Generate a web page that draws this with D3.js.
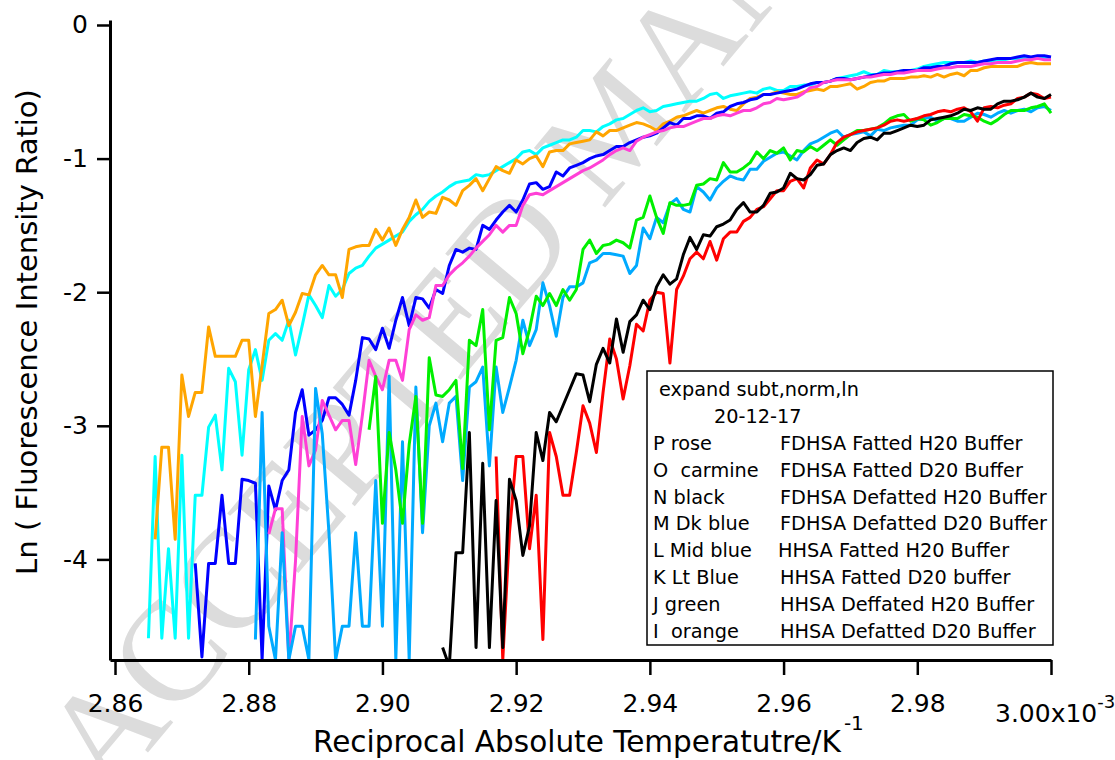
<!DOCTYPE html>
<html><head><meta charset="utf-8">
<script src="https://cdn.jsdelivr.net/npm/d3@7"></script>
<style>
body{margin:0;background:#fff;}
svg{display:block;font-family:"DejaVu Sans",sans-serif;}
text{white-space:pre;}
</style></head><body>
<svg id="chart" width="1115" height="760"></svg>
<script>
// Reciprocal absolute temperature grid (x 10^-3 K^-1)
const recipT = [
 2.865,2.866,2.867,2.868,2.869,
 2.870,2.871,2.872,2.873,2.874,2.875,2.876,2.877,2.878,2.879,
 2.880,2.881,2.882,2.883,2.884,2.885,2.886,2.887,2.888,2.889,
 2.890,2.891,2.892,2.893,2.894,2.895,2.896,2.897,2.898,2.899,
 2.900,2.901,2.902,2.903,2.904,2.905,2.906,2.907,2.908,2.909,
 2.910,2.911,2.912,2.913,2.914,2.915,2.916,2.917,2.918,2.919,
 2.920,2.921,2.922,2.923,2.924,2.925,2.926,2.927,2.928,2.929,
 2.930,2.931,2.932,2.933,2.934,2.935,2.936,2.937,2.938,2.939,
 2.940,2.941,2.942,2.943,2.944,2.945,2.946,2.947,2.948,2.949,
 2.950,2.951,2.952,2.953,2.954,2.955,2.956,2.957,2.958,2.959,
 2.960,2.961,2.962,2.963,2.964,2.965,2.966,2.967,2.968,2.969,
 2.970,2.971,2.972,2.973,2.974,2.975,2.976,2.977,2.978,2.979,
 2.980,2.981,2.982,2.983,2.984,2.985,2.986,2.987,2.988,2.989,
 2.990,2.991,2.992,2.993,2.994,2.995,2.996,2.997,2.998,2.999,
 3.000];

// I orange : HHSA Defatted D20 Buffer (starts 2.866)
const orangeStart = 2.866;
const orangeI = [
 -3.85,-3.16,-3.16,-3.85,
 -2.62,-2.93,-2.75,-2.75,-2.26,-2.48,-2.48,-2.48,-2.48,-2.36,
 -2.36,-2.93,-2.55,-2.16,-2.13,-2.06,-2.25,-2.15,-2.01,-2.02,
 -1.87,-1.80,-1.87,-1.87,-2.04,-1.68,-1.66,-1.65,-1.65,-1.53,
 -1.61,-1.52,-1.65,-1.53,-1.44,-1.31,-1.44,-1.40,-1.41,-1.29,
 -1.31,-1.35,-1.24,-1.20,-1.15,-1.24,-1.15,-1.06,-1.09,-1.11,
 -1.01,-1.04,-1.00,-0.98,-1.06,-0.95,-0.94,-0.94,-0.89,-0.88,
 -0.87,-0.86,-0.80,-0.83,-0.79,-0.79,-0.77,-0.75,-0.73,-0.74,
 -0.76,-0.79,-0.74,-0.72,-0.69,-0.68,-0.66,-0.64,-0.66,-0.64,
 -0.62,-0.61,-0.63,-0.64,-0.59,-0.55,-0.54,-0.52,-0.52,-0.50,
 -0.51,-0.52,-0.52,-0.50,-0.49,-0.48,-0.49,-0.46,-0.46,-0.45,
 -0.44,-0.48,-0.46,-0.43,-0.42,-0.42,-0.40,-0.40,-0.40,-0.39,
 -0.39,-0.38,-0.39,-0.37,-0.39,-0.37,-0.36,-0.38,-0.34,-0.34,
 -0.32,-0.31,-0.31,-0.31,-0.31,-0.31,-0.29,-0.28,-0.29,-0.29,
 -0.29];

// K Lt Blue : HHSA Fatted D20 buffer (starts 2.865)
const cyanStart = 2.865;
const cyanK = [
 -4.59,-3.23,-4.59,-3.92,-4.59,
 -3.22,-4.59,-3.52,-3.52,-3.01,-2.92,-3.33,-2.57,-2.67,-3.22,
 -2.58,-2.43,-2.66,-2.36,-2.31,-2.36,-2.21,-2.47,-2.25,-2.02,
 -2.10,-2.19,-1.95,-2.03,-1.98,-1.86,-1.82,-1.80,-1.73,-1.67,
 -1.64,-1.61,-1.58,-1.55,-1.47,-1.42,-1.38,-1.32,-1.28,-1.25,
 -1.21,-1.18,-1.17,-1.16,-1.12,-1.13,-1.12,-1.09,-1.06,-1.03,
 -1.00,-0.95,-0.94,-0.97,-0.92,-0.90,-0.88,-0.86,-0.86,-0.84,
 -0.79,-0.79,-0.80,-0.76,-0.74,-0.71,-0.70,-0.67,-0.64,-0.62,
 -0.65,-0.64,-0.61,-0.60,-0.59,-0.58,-0.57,-0.57,-0.55,-0.52,
 -0.51,-0.55,-0.53,-0.52,-0.51,-0.50,-0.51,-0.48,-0.47,-0.49,
 -0.49,-0.46,-0.46,-0.45,-0.45,-0.43,-0.43,-0.42,-0.40,-0.39,
 -0.38,-0.37,-0.35,-0.37,-0.37,-0.34,-0.35,-0.35,-0.34,-0.34,
 -0.33,-0.31,-0.30,-0.29,-0.28,-0.28,-0.28,-0.28,-0.27,-0.28,
 -0.27,-0.27,-0.26,-0.26,-0.25,-0.25,-0.25,-0.25,-0.24,-0.25,
 -0.25];

// M Dk blue : FDHSA Defatted D20 Buffer (starts 2.872)
const blueStart = 2.872;
const blueM = [
 -4.03,-4.73,-4.03,-4.03,-3.52,-4.03,-4.03,-3.40,
 -3.41,-3.43,-4.75,-3.45,-3.63,-3.41,-3.33,-2.90,-2.73,-3.07,
 -3.03,-2.96,-2.79,-2.79,-2.84,-2.92,-2.66,-2.34,-2.35,-2.43,
 -2.27,-2.42,-2.21,-2.04,-2.25,-2.04,-2.05,-2.12,-1.98,-2.01,
 -1.80,-1.68,-1.70,-1.67,-1.68,-1.50,-1.53,-1.46,-1.40,-1.35,
 -1.40,-1.31,-1.19,-1.18,-1.23,-1.21,-1.10,-1.13,-1.07,-1.05,
 -1.03,-1.00,-0.98,-0.97,-0.94,-0.91,-0.91,-0.88,-0.86,-0.84,
 -0.83,-0.81,-0.77,-0.73,-0.75,-0.70,-0.70,-0.68,-0.68,-0.70,
 -0.66,-0.65,-0.61,-0.59,-0.58,-0.56,-0.55,-0.52,-0.52,-0.51,
 -0.50,-0.49,-0.48,-0.46,-0.44,-0.43,-0.43,-0.42,-0.40,-0.40,
 -0.41,-0.40,-0.39,-0.38,-0.37,-0.36,-0.36,-0.35,-0.34,-0.34,
 -0.34,-0.32,-0.32,-0.31,-0.31,-0.29,-0.28,-0.28,-0.28,-0.28,
 -0.27,-0.26,-0.25,-0.25,-0.25,-0.24,-0.23,-0.24,-0.23,-0.23,
 -0.24];

// P rose : FDHSA Fatted H20 Buffer (starts 2.883)
const roseStart = 2.883;
const roseP = [
 -3.81,-3.62,-3.62,-4.75,-4.01,-2.93,-3.30,
 -3.18,-2.81,-2.92,-3.03,-2.96,-2.96,-3.29,-2.92,-2.51,-2.63,
 -2.73,-2.51,-2.51,-2.66,-2.28,-2.17,-2.21,-2.19,-1.95,-1.95,
 -1.87,-1.82,-1.78,-1.73,-1.67,-1.62,-1.57,-1.50,-1.55,-1.50,
 -1.50,-1.35,-1.27,-1.26,-1.27,-1.24,-1.21,-1.18,-1.15,-1.12,
 -1.09,-1.07,-1.04,-1.01,-0.97,-0.94,-0.92,-0.94,-0.87,-0.84,
 -0.82,-0.80,-0.79,-0.77,-0.76,-0.76,-0.74,-0.72,-0.70,-0.70,
 -0.68,-0.67,-0.68,-0.66,-0.64,-0.64,-0.62,-0.59,-0.58,-0.55,
 -0.56,-0.55,-0.54,-0.51,-0.47,-0.46,-0.43,-0.42,-0.41,-0.41,
 -0.41,-0.40,-0.39,-0.39,-0.38,-0.37,-0.37,-0.36,-0.36,-0.35,
 -0.34,-0.34,-0.34,-0.33,-0.32,-0.32,-0.31,-0.31,-0.31,-0.30,
 -0.29,-0.29,-0.28,-0.28,-0.28,-0.27,-0.26,-0.26,-0.25,-0.26,
 -0.26];

// L Mid blue : HHSA Fatted H20 Buffer (starts 2.881)
const midBlueStart = 2.881;
const midBlueL = [
 -4.60,-2.90,-4.50,-4.75,-3.80,-4.75,-4.50,-4.50,-4.75,
 -2.72,-3.06,-3.80,-4.75,-4.50,-4.50,-3.80,-4.50,-4.50,-3.41,
 -4.50,-2.63,-4.75,-3.12,-4.75,-2.71,-3.80,-3.00,-2.83,-3.12,
 -2.83,-2.78,-3.41,-2.71,-2.67,-2.56,-3.30,-2.56,-2.90,-2.71,
 -2.51,-2.21,-2.40,-2.28,-1.93,-2.10,-2.33,-2.04,-1.96,-1.96,
 -1.93,-1.78,-1.76,-1.71,-1.71,-1.72,-1.73,-1.86,-1.80,-1.52,
 -1.60,-1.44,-1.48,-1.34,-1.30,-1.38,-1.40,-1.21,-1.25,-1.31,
 -1.22,-1.17,-1.13,-1.15,-1.16,-1.08,-1.08,-1.02,-0.99,-0.96,
 -0.95,-0.98,-1.01,-0.94,-0.89,-0.87,-0.84,-0.81,-0.79,-0.84,
 -0.82,-0.81,-0.80,-0.83,-0.78,-0.79,-0.77,-0.76,-0.75,-0.75,
 -0.71,-0.70,-0.69,-0.72,-0.70,-0.70,-0.72,-0.72,-0.69,-0.66,
 -0.67,-0.69,-0.66,-0.64,-0.66,-0.64,-0.63,-0.65,-0.62,-0.61,
 -0.64];

// J green : HHSA Deffated H20 Buffer (starts 2.898)
const greenStart = 2.898;
const greenJ = [
 -3.03,-2.63,
 -3.73,-3.05,-3.33,-3.73,-3.14,-2.78,-3.73,-2.49,-2.77,-2.78,
 -2.73,-2.66,-3.32,-2.36,-2.40,-2.13,-3.03,-2.36,-2.34,-2.04,
 -2.16,-2.46,-2.28,-2.03,-2.10,-2.01,-2.10,-1.98,-2.06,-1.98,
 -1.68,-1.61,-1.71,-1.65,-1.64,-1.61,-1.63,-1.67,-1.46,-1.44,
 -1.28,-1.44,-1.56,-1.33,-1.35,-1.35,-1.34,-1.20,-1.19,-1.15,
 -1.16,-1.03,-1.10,-1.10,-1.07,-1.03,-0.95,-1.00,-0.94,-0.96,
 -0.92,-1.01,-0.94,-0.95,-0.91,-0.94,-0.90,-0.86,-0.90,-0.86,
 -0.82,-0.79,-0.79,-0.78,-0.77,-0.74,-0.70,-0.68,-0.67,-0.72,
 -0.70,-0.71,-0.75,-0.73,-0.70,-0.70,-0.70,-0.67,-0.68,-0.69,
 -0.72,-0.74,-0.71,-0.67,-0.64,-0.64,-0.64,-0.62,-0.61,-0.59,
 -0.66];

// N black : FDHSA Defatted H20 Buffer (starts 2.909)
const blackStart = 2.909;
const blackN = [
 -4.66,
 -4.80,-3.95,-3.95,-3.05,-4.66,-3.28,-4.66,-3.56,-4.66,-3.40,
 -3.56,-3.97,-3.75,-3.05,-3.26,-2.90,-2.97,-2.85,-2.73,-2.61,
 -2.62,-2.82,-2.54,-2.42,-2.53,-2.20,-2.45,-2.22,-2.17,-2.06,
 -2.13,-1.96,-1.87,-1.94,-1.90,-1.72,-1.59,-1.68,-1.57,-1.58,
 -1.51,-1.49,-1.46,-1.38,-1.33,-1.40,-1.40,-1.35,-1.26,-1.25,
 -1.22,-1.11,-1.15,-1.16,-1.12,-1.05,-1.04,-0.97,-0.94,-0.92,
 -0.94,-0.88,-0.85,-0.84,-0.86,-0.81,-0.81,-0.79,-0.77,-0.75,
 -0.76,-0.75,-0.71,-0.70,-0.69,-0.68,-0.66,-0.63,-0.64,-0.62,
 -0.63,-0.63,-0.59,-0.57,-0.57,-0.56,-0.54,-0.51,-0.54,-0.55,
 -0.52];

// O carmine : FDHSA Fatted D20 Buffer (starts 2.917)
const carmineStart = 2.917;
const carmineO = [
 -3.23,-4.75,-3.80,
 -3.23,-3.23,-3.92,-3.52,-4.60,-3.05,-3.23,-3.52,-3.52,-3.20,
 -2.85,-2.98,-3.20,-2.75,-2.35,-2.50,-2.80,-2.55,-2.24,-2.29,
 -2.06,-2.00,-2.01,-2.53,-1.98,-1.88,-1.75,-1.70,-1.75,-1.62,
 -1.76,-1.60,-1.55,-1.55,-1.47,-1.44,-1.38,-1.36,-1.30,-1.24,
 -1.24,-1.17,-1.15,-1.22,-1.07,-1.01,-1.04,-0.97,-0.88,-0.84,
 -0.82,-0.80,-0.79,-0.78,-0.77,-0.75,-0.72,-0.71,-0.72,-0.71,
 -0.70,-0.68,-0.67,-0.65,-0.64,-0.65,-0.63,-0.62,-0.65,-0.72,
 -0.62,-0.61,-0.62,-0.60,-0.59,-0.55,-0.54,-0.51,-0.52,-0.55,
 -0.54];

const xTickValues = [2.86, 2.88, 2.90, 2.92, 2.94, 2.96, 2.98, 3.00];
const xTickLabels = ["2.86", "2.88", "2.90", "2.92", "2.94", "2.96", "2.98", ""];
const yTickValues = [0, -1, -2, -3, -4];
const yTickLabels = ["0", "-1", "-2", "-3", "-4"];

const legendHeader = ["expand subt,norm,ln", "20-12-17"];
const legendKeys = ["P rose", "O  carmine", "N black", "M Dk blue", "L Mid blue", "K Lt Blue", "J green", "I  orange"];
const legendDescs = ["FDHSA Fatted H20 Buffer", "FDHSA Fatted D20 Buffer", "FDHSA Defatted H20 Buffer",
  "FDHSA Defatted D20 Buffer", "HHSA Fatted H20 Buffer", "HHSA Fatted D20 buffer",
  "HHSA Deffated H20 Buffer", "HHSA Defatted D20 Buffer"];

const series = [
  {start: cyanStart, values: cyanK, color: "#00ffff"},
  {start: orangeStart, values: orangeI, color: "#ffa500"},
  {start: blueStart, values: blueM, color: "#0000ff"},
  {start: roseStart, values: roseP, color: "#ff40d6"},
  {start: midBlueStart, values: midBlueL, color: "#00aaff"},
  {start: greenStart, values: greenJ, color: "#00f000"},
  {start: carmineStart, values: carmineO, color: "#ff0000"},
  {start: blackStart, values: blackN, color: "#000000"}
];

const svg = d3.select("#chart");
const x = d3.scaleLinear().domain([2.85925, 3.0]).range([110, 1051]);
const y = d3.scaleLinear().domain([-4.753, 0.0374]).range([660, 20]);

// watermark
svg.append("text")
  .attr("transform", "translate(108,800) rotate(-50)")
  .attr("font-family", "'Liberation Serif', serif")
  .attr("font-size", 142)
  .attr("fill", "#dcdcdc")
  .text("ACCEPTED MANUSCRIPT");

svg.append("clipPath").attr("id", "plotclip")
  .append("rect").attr("x", 110).attr("y", 18).attr("width", 945).attr("height", 642);

const line = d3.line().x(d => x(d.x)).y(d => y(d.y));
const plot = svg.append("g").attr("clip-path", "url(#plotclip)");
series.forEach(s => {
  const i0 = recipT.findIndex(t => Math.abs(t - s.start) < 1e-9);
  const pts = s.values.map((v, i) => ({x: recipT[i0 + i], y: v})).filter(p => p.x !== undefined);
  plot.append("path").datum(pts)
    .attr("d", line)
    .attr("fill", "none")
    .attr("stroke", s.color)
    .attr("stroke-width", 3)
    .attr("stroke-linejoin", "round");
});

// axes
const xAxis = d3.axisBottom(x).tickValues(xTickValues)
  .tickFormat((d, i) => xTickLabels[i]).tickSizeInner(15).tickSizeOuter(0).tickPadding(19);
const gx = svg.append("g").attr("transform", "translate(0,660)").call(xAxis);
const yAxis = d3.axisLeft(y).tickValues(yTickValues)
  .tickFormat((d, i) => yTickLabels[i]).tickSizeInner(13).tickSizeOuter(0).tickPadding(9);
const gy = svg.append("g").attr("transform", "translate(110,0)").call(yAxis);
[gx, gy].forEach(g => {
  g.select(".domain").attr("stroke", "#000").attr("stroke-width", 3);
  g.selectAll(".tick line").attr("stroke", "#000").attr("stroke-width", 2.5);
  g.selectAll(".tick text").attr("font-family", "'DejaVu Sans', sans-serif").attr("font-size", 25).attr("fill", "#000");
});

// last x label with exponent
const lastLab = svg.append("text").attr("x", 995).attr("y", 722)
  .attr("font-size", 25).attr("fill", "#000");
lastLab.append("tspan").text("3.00x10");
lastLab.append("tspan").attr("font-size", 18).attr("dy", -14).text("-3");

// axis titles
const xt = svg.append("text").attr("x", 313).attr("y", 752).attr("font-size", 29.5).attr("fill", "#000");
xt.append("tspan").text("Reciprocal Absolute Temperatutre/K");
xt.append("tspan").attr("font-size", 20).attr("dy", -22).attr("dx", 3).text("-1");

svg.append("text").attr("transform", "translate(37,332) rotate(-90)")
  .attr("text-anchor", "middle").attr("font-size", 29).attr("fill", "#000")
  .text("Ln ( Fluorescence Intensity Ratio)");

// legend
const lg = svg.append("g");
lg.append("rect").attr("x", 647).attr("y", 371).attr("width", 406).attr("height", 274)
  .attr("fill", "#fff").attr("stroke", "#000").attr("stroke-width", 1.5);
lg.append("text").attr("x", 659).attr("y", 396).attr("font-size", 19.3).text(legendHeader[0]);
lg.append("text").attr("x", 714).attr("y", 423).attr("font-size", 19.3).text(legendHeader[1]);
legendKeys.forEach((k, i) => {
  const yy = 450 + i * 26.8;
  lg.append("text").attr("x", 653).attr("y", yy).attr("font-size", 19.3).text(k);
  lg.append("text").attr("x", i === 4 ? 778 : 780).attr("y", yy).attr("font-size", 19.3).text(legendDescs[i]);
});
</script>
</body></html>
